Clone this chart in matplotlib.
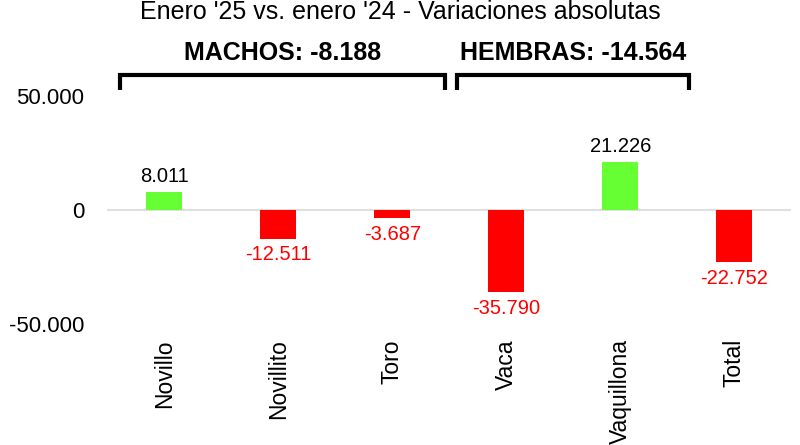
import matplotlib
matplotlib.use("Agg")
import matplotlib.pyplot as plt

categories = ["Novillo", "Novillito", "Toro", "Vaca", "Vaquillona", "Total"]
values = [8011, -12511, -3687, -35790, 21226, -22752]
yticks = [-50000, 0, 50000]
title = "Enero '25 vs. enero '24 - Variaciones absolutas"
group_labels = ["MACHOS: -8.188", "HEMBRAS: -14.564"]

plt.rcParams['font.family'] = ['Liberation Sans', 'DejaVu Sans']

GREEN = "#66FF33"
RED = "#FF0000"


def fmt(v):
    s = f"{abs(v):,}".replace(",", ".")
    return ("-" if v < 0 else "") + s


fig = plt.figure(figsize=(8, 4.45), dpi=100)
ax = fig.add_axes([0.134, 0.272, 0.855, 0.512])

x = list(range(len(categories)))
colors = [GREEN if v >= 0 else RED for v in values]
ax.bar(x, values, width=0.32, color=colors, zorder=2)
ax.axhline(0, color="#d9d9d9", lw=1.2, zorder=1)

ax.set_xlim(-0.5, len(categories) - 0.5)
ax.set_ylim(-50000, 50000)
ax.set_yticks(yticks)
ax.set_yticklabels([fmt(t) for t in yticks], fontsize=16)
ax.set_xticks(x)
ax.set_xticklabels(categories, rotation=90, fontsize=16.5, va="top", ha="center")
ax.tick_params(axis="both", length=0)
ax.tick_params(axis="y", pad=16.5)
ax.tick_params(axis="x", pad=11)
for s in ax.spines.values():
    s.set_visible(False)

for xi, v in zip(x, values):
    if v >= 0:
        ax.annotate(fmt(v), (xi, v), xytext=(0, 4), textcoords="offset points",
                    ha="center", va="bottom", fontsize=14.5, color="black")
    else:
        ax.annotate(fmt(v), (xi, v), xytext=(0, -5), textcoords="offset points",
                    ha="center", va="top", fontsize=14.5, color=RED)

# group brackets (x in data, y in data beyond ylim)
brackets = [(-0.386, 2.465), (2.57, 4.605)]
y_top, y_bot = 59200, 52600
for (x0, x1), lab in zip(brackets, group_labels):
    ax.plot([x0, x0, x1, x1], [y_bot, y_top, y_top, y_bot], color="black",
            lw=3, clip_on=False, solid_joinstyle="miter", solid_capstyle="butt")
    ax.text((x0 + x1) / 2, 68900, lab, ha="center", va="center",
            fontsize=18, fontweight="bold", clip_on=False)

fig.text(0.5, 0.972, title, ha="center", va="center", fontsize=18)

fig.savefig("out.png", dpi=100)
